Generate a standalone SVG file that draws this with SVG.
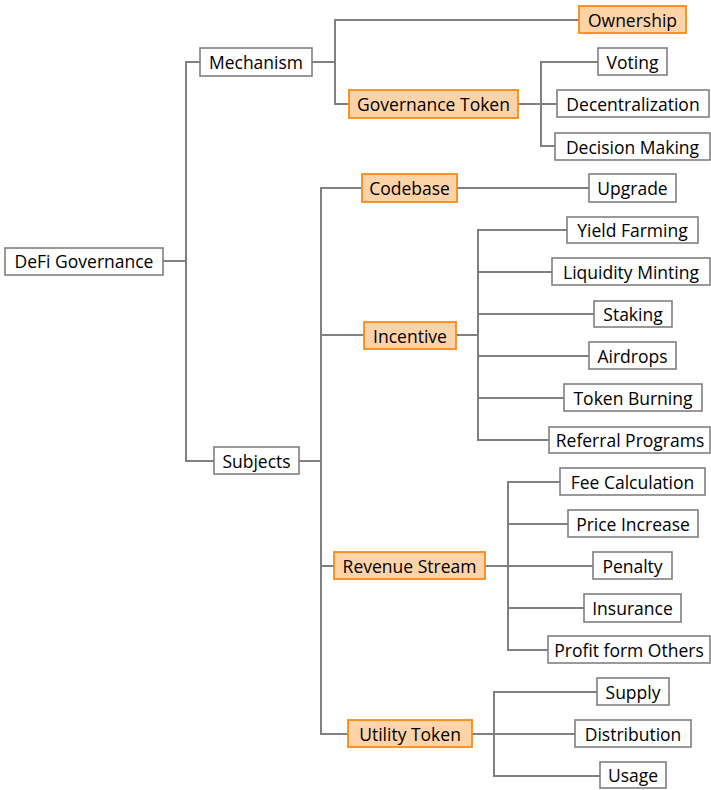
<svg xmlns="http://www.w3.org/2000/svg" width="711" height="790" viewBox="0 0 711 790">
<style>
.b rect{fill:#fff;stroke:#808080;stroke-width:1.6}
.o rect{fill:#ffd3a8;stroke:#fb8a14;stroke-width:1.8}
text{font-family:"Open Sans","DejaVu Sans",sans-serif;font-size:17.5px;fill:#000;text-anchor:middle}
#connectors path{fill:none;stroke:#808080;stroke-width:2}
</style>
<rect width="711" height="790" fill="#fff"/>
<g id="connectors">
<path d="M163,261H186M200,62H186V461H214"/>
<path d="M312,62H335M579,20H335V104H349"/>
<path d="M518,104H541M598,62H541V146H555M541,104H557"/>
<path d="M299,461H321M362,188H321V734H348M321,335H364M321,566H334"/>
<path d="M457,188H589"/>
<path d="M456,335H478M567,230H478V440H549M478,272H552M478,314H594M478,356H589M478,398H564"/>
<path d="M485,566H508M560,482H508V650H548M508,524H568M508,566H593M508,608H584"/>
<path d="M472,734H494M597,692H494V776H600M494,734H575"/>
</g>
<g id="n-root" class="b"><rect x="5" y="248" width="158" height="27"/><text x="84" y="267.5">DeFi Governance</text></g>
<g id="n-mechanism" class="b"><rect x="200" y="48" width="112" height="28"/><text x="256" y="68.5">Mechanism</text></g>
<g id="n-subjects" class="b"><rect x="214" y="447" width="85" height="27"/><text x="256.5" y="467.5">Subjects</text></g>
<g id="n-ownership" class="o"><rect x="579" y="6" width="107" height="27"/><text x="632.5" y="26.5">Ownership</text></g>
<g id="n-govtoken" class="o"><rect x="349" y="90" width="169" height="28"/><text x="433.5" y="110.5">Governance Token</text></g>
<g id="n-voting" class="b"><rect x="598" y="48" width="69" height="27"/><text x="632.5" y="68.5">Voting</text></g>
<g id="n-decentral" class="b"><rect x="557" y="90" width="152" height="27"/><text x="633" y="110.5">Decentralization</text></g>
<g id="n-decision" class="b"><rect x="555" y="133" width="155" height="27"/><text x="632.5" y="153.5">Decision Making</text></g>
<g id="n-codebase" class="o"><rect x="362" y="174" width="95" height="28"/><text x="409.5" y="194.5">Codebase</text></g>
<g id="n-upgrade" class="b"><rect x="589" y="174" width="87" height="28"/><text x="632.5" y="194.5">Upgrade</text></g>
<g id="n-incentive" class="o"><rect x="364" y="322" width="92" height="27"/><text x="410" y="342.5">Incentive</text></g>
<g id="n-yield" class="b"><rect x="567" y="217" width="131" height="26"/><text x="632.5" y="236.5">Yield Farming</text></g>
<g id="n-liquidity" class="b"><rect x="552" y="258" width="158" height="27"/><text x="631" y="278.5">Liquidity Minting</text></g>
<g id="n-staking" class="b"><rect x="594" y="301" width="78" height="26"/><text x="633" y="320.5">Staking</text></g>
<g id="n-airdrops" class="b"><rect x="589" y="342" width="87" height="27"/><text x="632.5" y="362.5">Airdrops</text></g>
<g id="n-burning" class="b"><rect x="564" y="384" width="138" height="27"/><text x="633" y="404.5">Token Burning</text></g>
<g id="n-referral" class="b"><rect x="549" y="427" width="161" height="26"/><text x="630" y="446.5">Referral Programs</text></g>
<g id="n-revenue" class="o"><rect x="334" y="552" width="151" height="27"/><text x="409.5" y="572.5">Revenue Stream</text></g>
<g id="n-fee" class="b"><rect x="560" y="468" width="145" height="27"/><text x="632.5" y="488.5">Fee Calculation</text></g>
<g id="n-price" class="b"><rect x="568" y="510" width="130" height="27"/><text x="633" y="530.5">Price Increase</text></g>
<g id="n-penalty" class="b"><rect x="593" y="552" width="79" height="27"/><text x="632.5" y="572.5">Penalty</text></g>
<g id="n-insurance" class="b"><rect x="584" y="594" width="97" height="28"/><text x="632.5" y="614.5">Insurance</text></g>
<g id="n-profit" class="b"><rect x="548" y="636" width="162" height="27"/><text x="629" y="656.5">Profit form Others</text></g>
<g id="n-utility" class="o"><rect x="348" y="720" width="124" height="27"/><text x="410" y="740.5">Utility Token</text></g>
<g id="n-supply" class="b"><rect x="597" y="678" width="72" height="27"/><text x="633" y="698.5">Supply</text></g>
<g id="n-distribution" class="b"><rect x="575" y="720" width="116" height="27"/><text x="633" y="740.5">Distribution</text></g>
<g id="n-usage" class="b"><rect x="600" y="762" width="66" height="26"/><text x="633" y="781.5">Usage</text></g>
</svg>
